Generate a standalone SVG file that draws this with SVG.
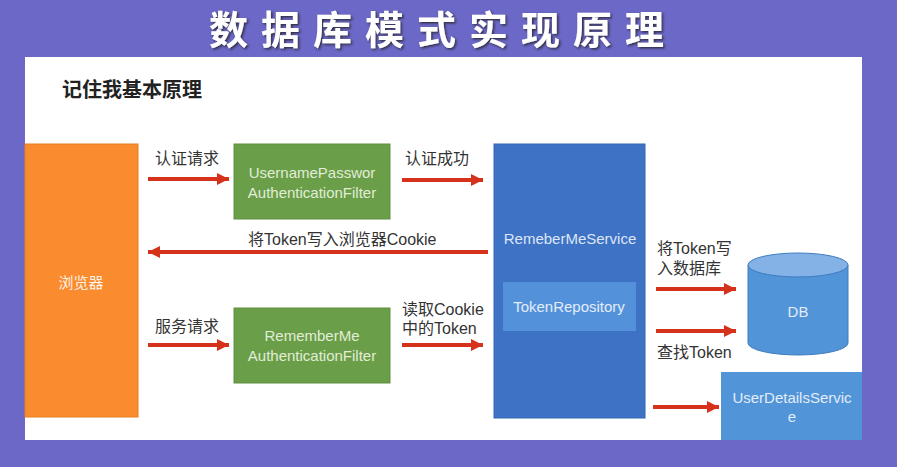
<svg xmlns="http://www.w3.org/2000/svg" width="897" height="467" viewBox="0 0 897 467">
<defs>
<marker id="ah" viewBox="0 0 10 10" refX="10" refY="5" markerWidth="3" markerHeight="3.2" orient="auto" markerUnits="strokeWidth">
<path d="M0,0 L10,5 L0,10 Z" fill="#D6321B"/>
</marker>
<filter id="sh" x="-5%" y="-20%" width="110%" height="140%">
<feDropShadow dx="1.5" dy="1.5" stdDeviation="0.8" flood-color="#222" flood-opacity="0.8"/>
</filter>
</defs>
<style>
.cn{font-family:"Liberation Sans","Noto Sans CJK SC",sans-serif;font-size:16px;fill:#333}
.bx{font-family:"Liberation Sans","Noto Sans CJK SC",sans-serif;font-size:15px;text-anchor:middle}
.arr{stroke:#D6321B;stroke-width:4;fill:none;marker-end:url(#ah)}
</style>
<rect x="0" y="0" width="897" height="467" fill="#6C68C7"/>
<rect x="25" y="57" width="837" height="383" fill="#FFFFFF"/>
<text x="443" y="44" text-anchor="middle" font-family="'Noto Sans CJK SC',sans-serif" font-weight="bold" font-size="39" letter-spacing="13" fill="#FFFFFF" filter="url(#sh)">数据库模式实现原理</text>
<text x="62" y="97" font-family="'Noto Sans CJK SC',sans-serif" font-weight="bold" font-size="20" fill="#222">记住我基本原理</text>

<g id="browser">
<rect x="25" y="144" width="113" height="273" fill="#FA8B2E" stroke="#E67E22" stroke-width="1"/>
<text class="bx" x="81" y="288" fill="#FFF2E6">浏览器</text>
</g>
<g id="upaf">
<rect x="234" y="144" width="156" height="75" fill="#6A9E48" stroke="#5E8F3E" stroke-width="1"/>
<text class="bx" x="312" y="178" fill="#E2EDD9">UsernamePasswor</text>
<text class="bx" x="312" y="198" fill="#E2EDD9">AuthenticationFilter</text>
</g>
<g id="rmaf">
<rect x="234" y="308" width="156" height="75" fill="#6A9E48" stroke="#5E8F3E" stroke-width="1"/>
<text class="bx" x="312" y="341" fill="#E2EDD9">RememberMe</text>
<text class="bx" x="312" y="361" fill="#E2EDD9">AuthenticationFilter</text>
</g>
<g id="rms">
<rect x="494" y="144" width="151" height="274" fill="#3E72C5" stroke="#3566B5" stroke-width="1"/>
<text class="bx" x="570" y="244" fill="#DCE6F5">RemeberMeService</text>
</g>
<g id="tokenrepo">
<rect x="503" y="282" width="133" height="49" fill="#5392DA"/>
<text class="bx" x="569" y="312" fill="#E3ECF8">TokenRepository</text>
</g>
<g id="db">
<path d="M748,265 L748,343 A50,12 0 0 0 848,343 L848,265" fill="#5194D8" stroke="#3F7CC0" stroke-width="1"/>
<ellipse cx="798" cy="265" rx="50" ry="12" fill="#84B2E6" stroke="#3F7CC0" stroke-width="1"/>
<text class="bx" x="798" y="317" fill="#E3ECF8">DB</text>
</g>
<g id="uds">
<rect x="721" y="372" width="141" height="68" fill="#5194D8"/>
<text class="bx" x="792" y="403" fill="#E3ECF8">UserDetailsServic</text>
<text class="bx" x="792" y="422" fill="#E3ECF8">e</text>
</g>

<g id="connectors">
<line class="arr" x1="148" y1="179" x2="229" y2="179"/>
<text class="cn" x="155" y="164">认证请求</text>
<line class="arr" x1="402" y1="180" x2="483" y2="180"/>
<text class="cn" x="405" y="164">认证成功</text>
<line class="arr" x1="488" y1="252" x2="148" y2="252"/>
<text class="cn" x="248" y="245">将Token写入浏览器Cookie</text>
<line class="arr" x1="148" y1="345" x2="229" y2="345"/>
<text class="cn" x="155" y="332">服务请求</text>
<line class="arr" x1="402" y1="345" x2="483" y2="345"/>
<text class="cn" x="402" y="315">读取Cookie</text>
<text class="cn" x="402" y="334">中的Token</text>
<line class="arr" x1="656" y1="289" x2="736" y2="289"/>
<text class="cn" x="657" y="254">将Token写</text>
<text class="cn" x="657" y="274">入数据库</text>
<line class="arr" x1="656" y1="331" x2="736" y2="331"/>
<text class="cn" x="657" y="358">查找Token</text>
<line class="arr" x1="653" y1="407" x2="719" y2="407"/>
</g>
</svg>
